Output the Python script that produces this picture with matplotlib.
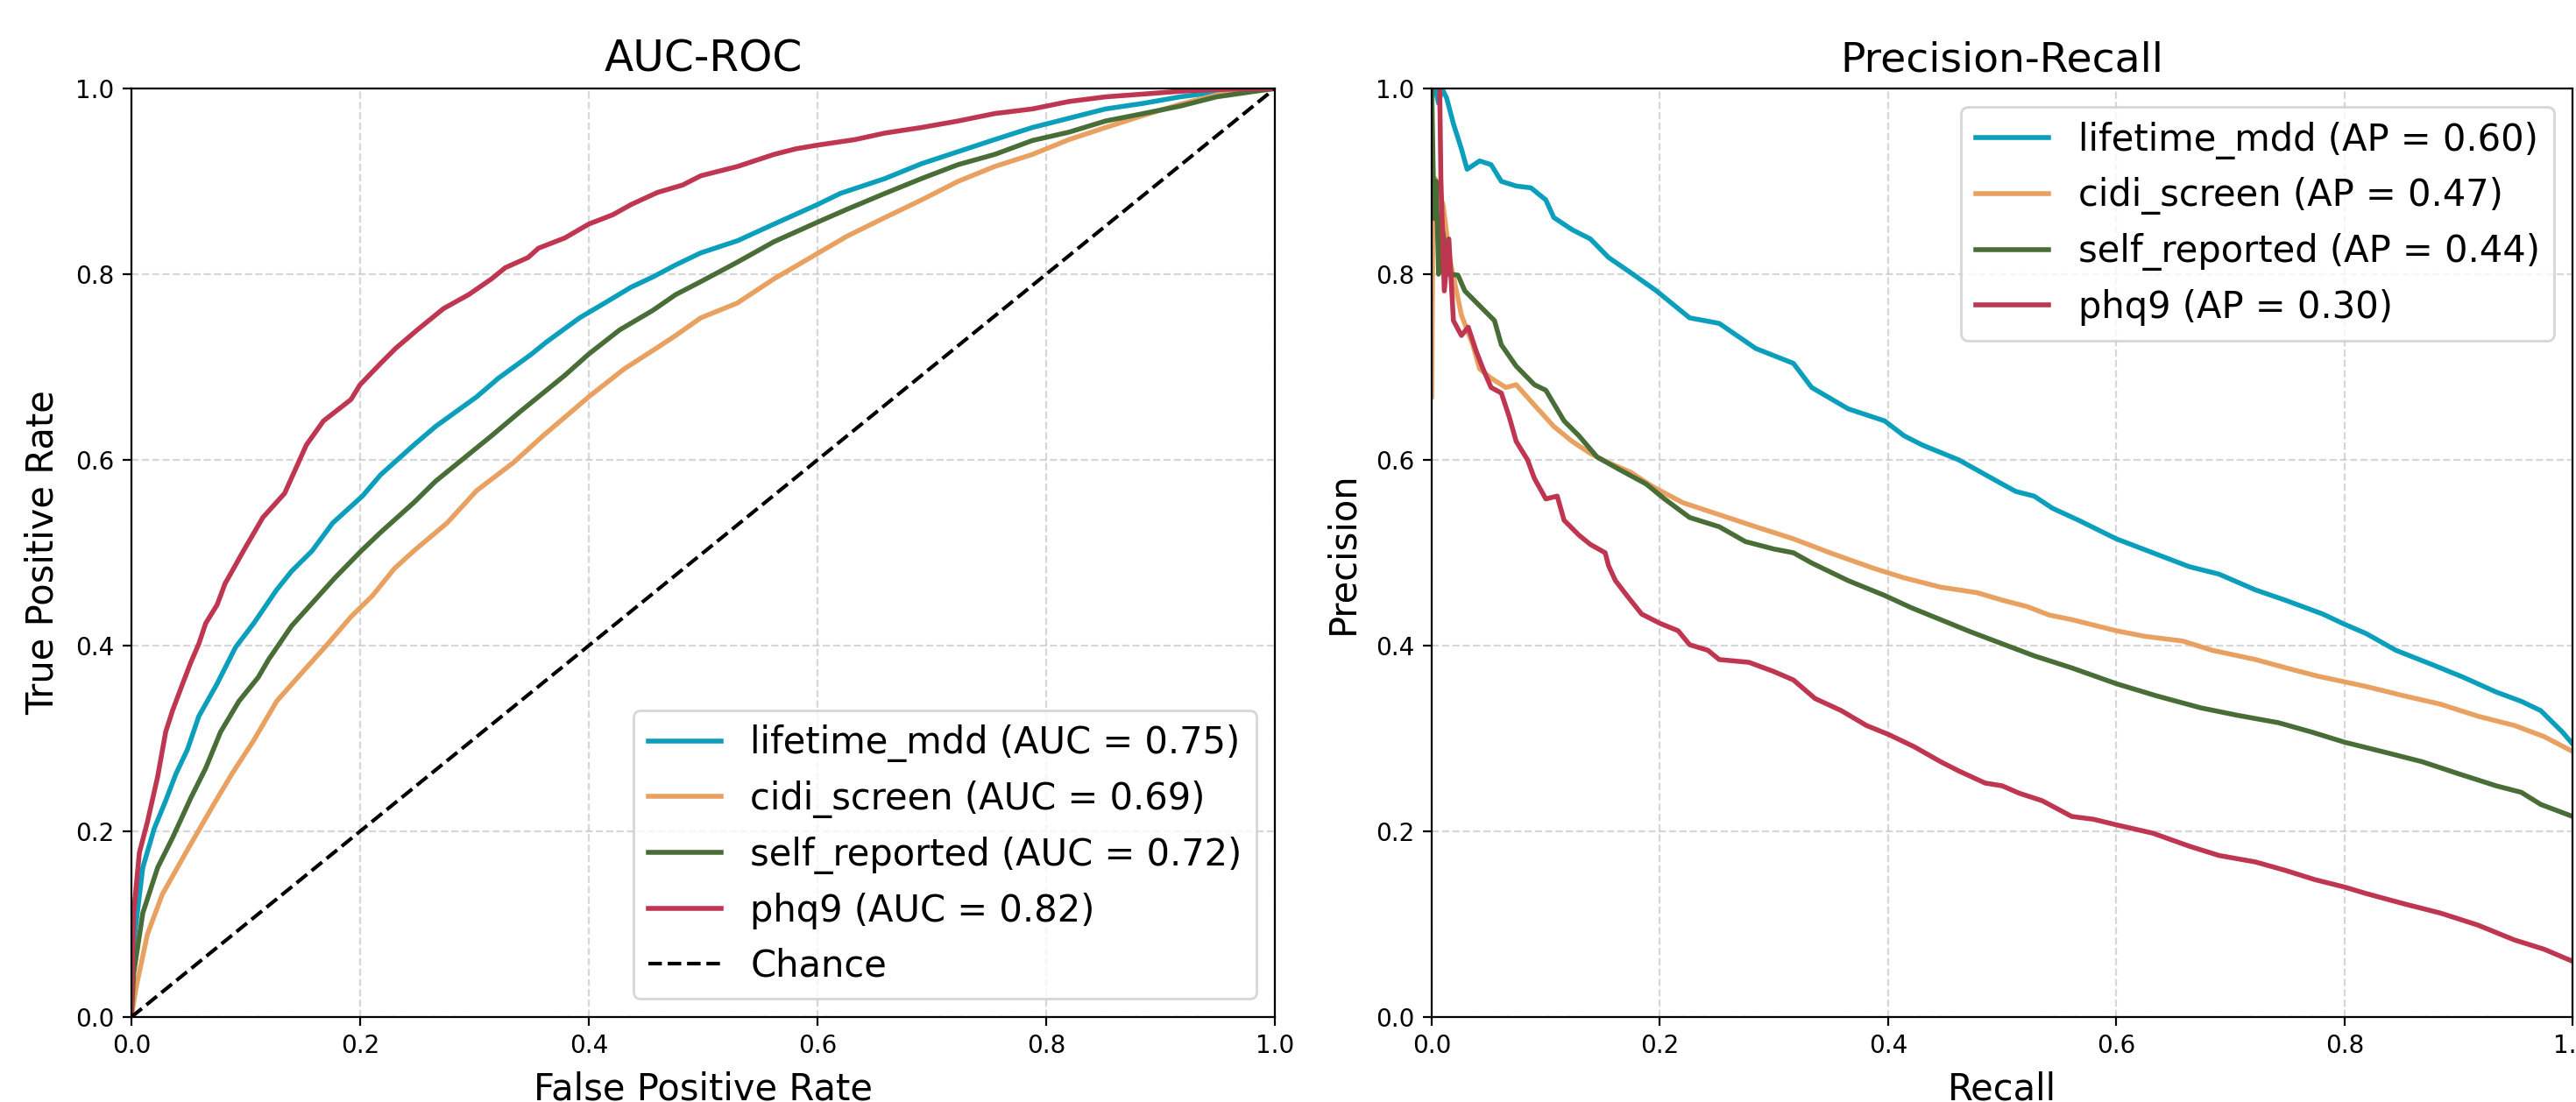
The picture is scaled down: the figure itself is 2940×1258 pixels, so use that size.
import matplotlib
matplotlib.use("Agg")
import numpy as np
from matplotlib import pyplot as plt

# colours per model
COLORS = {
    "lifetime_mdd": "#0c9fbc",
    "cidi_screen": "#e8a161",
    "self_reported": "#486d37",
    "phq9": "#bf3651",
}

MODELS = ["lifetime_mdd", "cidi_screen", "self_reported", "phq9"]
AUC = {"lifetime_mdd": 0.75, "cidi_screen": 0.69, "self_reported": 0.72, "phq9": 0.82}
AP = {"lifetime_mdd": 0.60, "cidi_screen": 0.47, "self_reported": 0.44, "phq9": 0.30}

# ROC curves
roc_fpr_lifetime = [0, .002, .01, .02, .03, .039, .049, .059, .075, .091, .107, .127, .14, .158, .176,
                    .202, .218, .247, .266, .302, .321, .35, .363, .392, .414, .437, .456, .476, .498,
                    .53, .562, .6, .62, .659, .691, .723, .755, .788, .82, .852, .885, .917, .949, .994, 1.0]
roc_tpr_lifetime = [0, .08, .161, .203, .233, .262, .288, .324, .359, .398, .424, .46, .48, .502, .532,
                    .561, .584, .616, .636, .668, .688, .714, .727, .753, .769, .786, .797, .81, .823,
                    .836, .854, .875, .887, .903, .919, .932, .945, .958, .968, .978, .984, .991, .996, .999, 1.0]

roc_fpr_cidi = [0, .004, .014, .027, .049, .072, .088, .107, .127, .15, .169, .192, .211, .23, .247,
                .276, .302, .334, .36, .382, .4, .431, .46, .476, .498, .53, .562, .594, .626, .659,
                .691, .723, .755, .788, .82, .852, .885, .917, .949, .994, 1.0]
roc_tpr_cidi = [0, .031, .089, .132, .18, .229, .262, .298, .34, .372, .398, .431, .454, .483, .502,
                .532, .567, .597, .626, .649, .668, .698, .721, .734, .753, .769, .795, .818, .841, .861,
                .88, .9, .916, .929, .945, .958, .971, .983, .993, .999, 1.0]

roc_fpr_self = [0, .002, .01, .023, .036, .052, .065, .078, .094, .111, .12, .14, .159, .178, .201,
                .218, .247, .266, .295, .315, .34, .36, .379, .4, .427, .456, .476, .498, .53, .562,
                .6, .626, .659, .691, .723, .755, .788, .82, .852, .885, .917, .949, .994, 1.0]
roc_tpr_self = [0, .047, .112, .161, .193, .236, .268, .307, .34, .366, .385, .421, .447, .473, .502,
                .522, .554, .577, .606, .626, .652, .672, .691, .714, .740, .761, .778, .792, .813, .835,
                .856, .87, .887, .903, .918, .929, .944, .953, .965, .973, .981, .991, .999, 1.0]

roc_fpr_phq9 = [0, .002, .007, .014, .023, .03, .036, .043, .052, .059, .065, .075, .082, .088, .098,
                .115, .134, .153, .168, .192, .2, .218, .231, .25, .273, .295, .315, .327, .347, .356,
                .379, .4, .421, .437, .46, .482, .498, .53, .562, .581, .6, .633, .659, .691, .723,
                .755, .788, .8, .82, .852, .885, .917, .949, .994, 1.0]
roc_tpr_phq9 = [0, .112, .177, .21, .259, .307, .33, .353, .382, .402, .424, .444, .467, .48, .502,
                .538, .564, .616, .642, .665, .681, .704, .72, .74, .763, .778, .795, .807, .818, .828,
                .839, .854, .864, .875, .888, .896, .906, .916, .929, .935, .939, .945, .952, .958, .965,
                .973, .978, .981, .986, .991, .994, .997, .999, 1.0, 1.0]

# precision-recall curves
pr_rec_lifetime = [.003, .006, .009, .013, .019, .026, .031, .042, .052, .061, .074, .087, .1, .107,
                   .123, .139, .155, .174, .197, .226, .252, .284, .317, .333, .365, .397, .414, .43,
                   .462, .5, .512, .528, .544, .567, .6, .632, .664, .69, .722, .748, .781, .8, .819,
                   .845, .878, .904, .933, .955, .972, .991, 1.0]
pr_prec_lifetime = [1.0, .984, 1.0, .99, .962, .935, .913, .922, .918, .90, .895, .893, .88, .861,
                    .848, .838, .818, .802, .782, .753, .747, .72, .704, .678, .655, .642, .626, .616,
                    .60, .574, .566, .561, .548, .535, .515, .50, .485, .477, .46, .449, .434, .423, .413,
                    .395, .379, .366, .35, .34, .33, .307, .294]

pr_rec_cidi = [0, .001, .003, .01, .016, .026, .036, .042, .052, .065, .074, .09, .107, .123, .139,
               .155, .174, .194, .22, .252, .284, .317, .349, .365, .388, .414, .446, .478, .5, .522,
               .541, .561, .6, .625, .658, .684, .722, .755, .777, .8, .819, .852, .884, .917, .949,
               .975, 1.0]
pr_prec_cidi = [.668, .862, .903, .874, .815, .756, .724, .698, .688, .678, .681, .659, .636, .62, .607,
                .597, .587, .571, .554, .541, .528, .515, .50, .493, .483, .473, .463, .457, .449, .442,
                .433, .428, .416, .41, .405, .395, .385, .374, .367, .361, .356, .346, .337, .324, .314,
                .302, .286]

pr_rec_self = [0, .002, .004, .006, .008, .015, .023, .029, .042, .055, .061, .074, .09, .1, .116,
               .129, .145, .164, .188, .204, .226, .252, .275, .3, .317, .333, .365, .397, .42, .446,
               .472, .5, .528, .561, .6, .635, .674, .706, .742, .771, .8, .836, .868, .9, .933, .955,
               .972, 1.0]
pr_prec_self = [1.0, .86, .90, .80, .86, .80, .799, .782, .766, .75, .724, .701, .681, .675, .642,
                .626, .603, .59, .574, .558, .538, .528, .512, .504, .50, .489, .47, .454, .441, .428,
                .415, .402, .389, .376, .359, .346, .333, .325, .317, .307, .296, .285, .275, .262, .249,
                .242, .229, .216]

pr_rec_phq9 = [.007, .008, .011, .015, .019, .026, .032, .039, .045, .052, .061, .068, .074, .084, .09,
               .1, .11, .116, .129, .139, .152, .155, .161, .171, .184, .2, .216, .226, .242, .252,
               .278, .3, .317, .336, .359, .381, .401, .423, .446, .462, .485, .5, .515, .535, .561,
               .58, .6, .632, .664, .69, .722, .748, .774, .8, .819, .852, .884, .917, .949, .975, 1.0]
pr_prec_phq9 = [1.0, .903, .782, .838, .75, .734, .743, .717, .698, .678, .672, .646, .62, .60, .58,
                .558, .561, .535, .519, .509, .50, .486, .47, .454, .434, .424, .416, .401, .395, .385,
                .382, .372, .363, .343, .33, .314, .304, .291, .275, .265, .252, .249, .241, .233, .216,
                .213, .207, .198, .184, .174, .167, .158, .148, .14, .133, .122, .112, .099, .083, .073,
                .06]

ROC = {
    "lifetime_mdd": (roc_fpr_lifetime, roc_tpr_lifetime),
    "cidi_screen": (roc_fpr_cidi, roc_tpr_cidi),
    "self_reported": (roc_fpr_self, roc_tpr_self),
    "phq9": (roc_fpr_phq9, roc_tpr_phq9),
}
PR = {
    "lifetime_mdd": (pr_rec_lifetime, pr_prec_lifetime),
    "cidi_screen": (pr_rec_cidi, pr_prec_cidi),
    "self_reported": (pr_rec_self, pr_prec_self),
    "phq9": (pr_rec_phq9, pr_prec_phq9),
}

TICKS = [0.0, 0.2, 0.4, 0.6, 0.8, 1.0]

fig = plt.figure(figsize=(14.7, 6.29), dpi=200)
ax_roc = fig.add_axes([0.0510, 0.0771, 0.4439, 0.8426])
ax_pr = fig.add_axes([0.5558, 0.0771, 0.4429, 0.8426])

for m in MODELS:
    x, y = ROC[m]
    ax_roc.plot(x, y, color=COLORS[m], lw=2, label=f"{m} (AUC = {AUC[m]:.2f})")
ax_roc.plot([0, 1], [0, 1], "k--", lw=1.5, label="Chance")

for m in MODELS:
    x, y = PR[m]
    ax_pr.plot(x, y, color=COLORS[m], lw=2, label=f"{m} (AP = {AP[m]:.2f})")

for ax in (ax_roc, ax_pr):
    ax.set_xlim(0, 1)
    ax.set_ylim(0, 1)
    ax.set_xticks(TICKS)
    ax.set_yticks(TICKS)
    ax.tick_params(labelsize=10)
    ax.grid(True, ls="--", alpha=0.5)

ax_roc.set_title("AUC-ROC", fontsize=17.5, pad=7)
ax_roc.set_xlabel("False Positive Rate", fontsize=15, labelpad=5)
ax_roc.set_ylabel("True Positive Rate", fontsize=15, labelpad=6)
ax_roc.legend(loc="lower right", fontsize=15)

ax_pr.set_title("Precision-Recall", fontsize=17, pad=7)
ax_pr.set_xlabel("Recall", fontsize=15, labelpad=5)
ax_pr.set_ylabel("Precision", fontsize=15, labelpad=6)
ax_pr.legend(loc="upper right", fontsize=15)

fig.savefig("out.png", dpi=200)
